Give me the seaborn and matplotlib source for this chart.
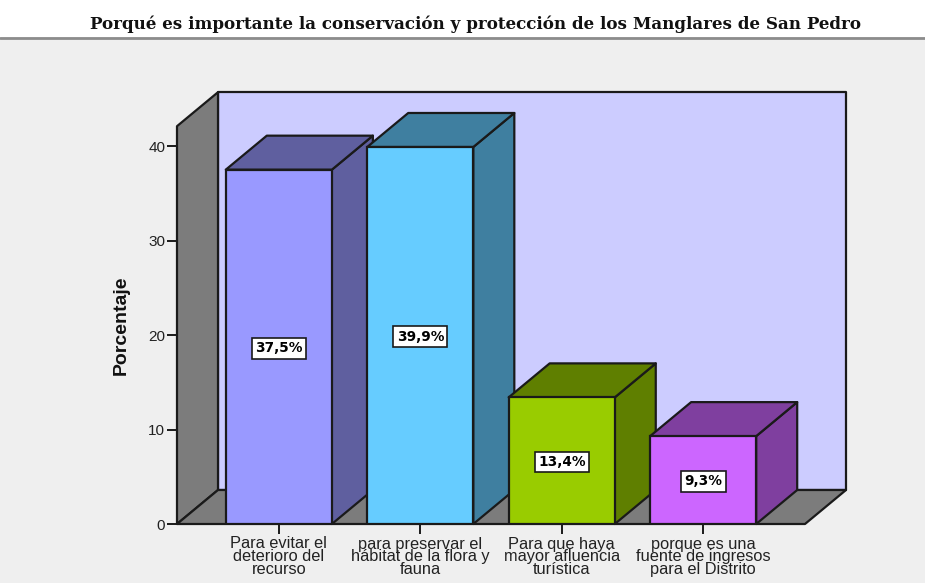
import matplotlib
matplotlib.use('Agg')
import matplotlib.pyplot as plt
import pandas as pd
import seaborn as sns
from matplotlib.patches import Polygon, Rectangle
from matplotlib.lines import Line2D

# data
categories = ['Para evitar el\ndeterioro del\nrecurso',
              'para preservar el\nhábitat de la flora y\nfauna',
              'Para que haya\nmayor afluencia\nturística',
              'porque es una\nfuente de ingresos\npara el Distrito']
values = [37.5, 39.9, 13.4, 9.3]
labels = ['37,5%', '39,9%', '13,4%', '9,3%']
front_colors = ['#9999FF', '#66CCFF', '#99CC00', '#CC66FF']
side_colors = ['#5F5F9F', '#3F7FA0', '#5F7F00', '#7F3F9F']
title = 'Porqué es importante la conservación y protección de los Manglares de San Pedro'

W, H = 925, 583
AX_W, AX_H = 628, 397.8
DEPTH_X, DEPTH_Y = 41, 34   # pixels of fake depth
EDGE = '#1a1a1a'

sns.set_theme(style='white')
plt.rcParams['font.family'] = ['Liberation Sans', 'DejaVu Sans']

fig = plt.figure(figsize=(W / 100, H / 100), dpi=100, facecolor='#EFEFEF')
ax = fig.add_axes([177 / W, (H - 524) / H, AX_W / W, AX_H / H])
ax.patch.set_alpha(0)

# white header band with grey rule
fig.add_artist(Rectangle((0, 1 - 37 / H), 1, 37 / H, transform=fig.transFigure,
                         fc='white', ec='none'))
fig.add_artist(Line2D([0, 1], [1 - 37.5 / H] * 2, transform=fig.transFigure,
                      color='#8c8c8c', lw=2))
fig.text(475 / W, 1 - 24 / H, title, ha='center', va='center', family='DejaVu Serif',
         fontweight='bold', fontsize=12.05, color='#111111')

df = pd.DataFrame({'categoria': categories, 'porcentaje': values})
sns.barplot(data=df, x='categoria', y='porcentaje', hue='categoria',
            palette=front_colors, legend=False, width=0.75, saturation=1,
            edgecolor=EDGE, linewidth=1.6, ax=ax)

ax.set_xlim(-0.72, 3.72)
ax.set_ylim(0, 42.1)
dx = DEPTH_X * (ax.get_xlim()[1] - ax.get_xlim()[0]) / AX_W
dy = DEPTH_Y * ax.get_ylim()[1] / AX_H


def poly(points, color, z):
    ax.add_patch(Polygon(points, closed=True, fc=color, ec=EDGE, lw=1.6,
                         zorder=z, clip_on=False, joinstyle='round'))


x0, x1 = ax.get_xlim()
y1 = ax.get_ylim()[1]
# walls and floor
poly([(x0 + dx, dy), (x1 + dx, dy), (x1 + dx, y1 + dy), (x0 + dx, y1 + dy)], '#CCCCFF', 0.5)
poly([(x0, 0), (x0 + dx, dy), (x0 + dx, y1 + dy), (x0, y1)], '#7C7C7C', 0.6)
poly([(x0, 0), (x1, 0), (x1 + dx, dy), (x0 + dx, dy)], '#7C7C7C', 0.6)

# side and top faces taken from the seaborn bars, left to right so later bars overlap
for i, bar in enumerate(ax.patches[:len(values)]):
    left, right = bar.get_x(), bar.get_x() + bar.get_width()
    top = bar.get_height()
    z = 2 + i
    poly([(right, 0), (right + dx, dy), (right + dx, top + dy), (right, top)], side_colors[i], z)
    poly([(left, top), (right, top), (right + dx, top + dy), (left + dx, top + dy)], side_colors[i], z)
    bar.set_zorder(z + 0.1)
    ax.annotate(labels[i], (bar.get_x() + bar.get_width() / 2, top / 2), xytext=(0, -1),
                textcoords='offset points', ha='center', va='center',
                family='DejaVu Sans', fontweight='bold', fontsize=9.8, color='black', zorder=20,
                bbox=dict(boxstyle='square,pad=0.25', fc='white', ec=EDGE, lw=1.2))

sns.despine(ax=ax, left=True, bottom=True, top=True, right=True)
ax.set_yticks([0, 10, 20, 30, 40])
ax.set_xlabel('')
ax.set_ylabel('')
ax.tick_params(axis='y', left=True, length=7.5, width=1.4, color=EDGE, pad=1, labelsize=11,
               labelcolor='#222222')
ax.tick_params(axis='x', bottom=True, length=7, width=1.4, color=EDGE, pad=2, labelsize=11.8,
               labelcolor='#222222')
for t in ax.get_xticklabels():
    t.set_linespacing(0.8)
fig.text(121 / W, 1 - 325 / H, 'Porcentaje', rotation=90, ha='center', va='center',
         fontweight='bold', fontsize=14, color='#111111')

fig.savefig('out.png', dpi=100, facecolor=fig.get_facecolor())
